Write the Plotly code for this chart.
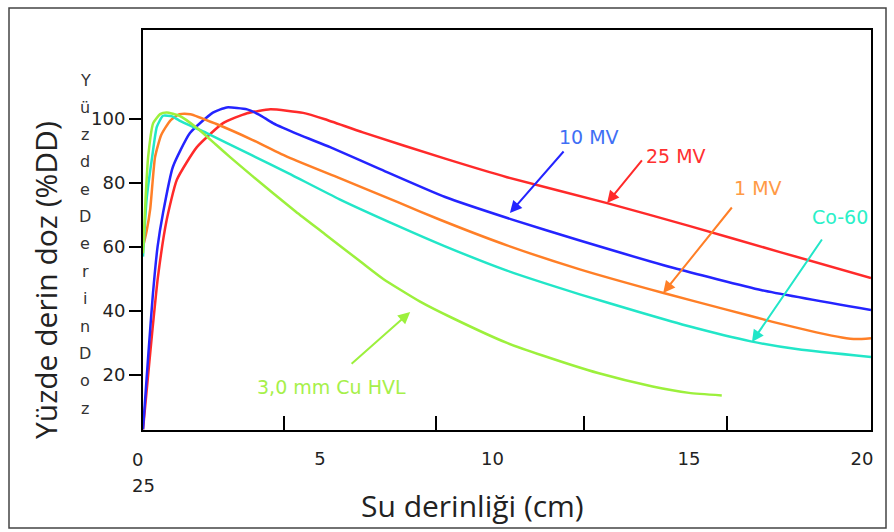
import plotly.graph_objects as go

# ---- data (depth in cm, percent depth dose) ----
x_25mv = [0, 0.1, 0.25, 0.41, 0.65, 0.93, 1.48, 2.2, 2.86, 3.5, 4.4, 5, 6.04, 8.3, 10, 12.75, 15, 17.5, 20]
y_25mv = [3, 15, 33, 50.6, 68.4, 81, 91.2, 98.7, 101.8, 103, 101.9, 99.9, 95.8, 87.6, 81.8, 73.7, 66.6, 58.4, 50.3]

x_10mv = [0, 0.05, 0.15, 0.27, 0.4, 0.55, 0.82, 1.29, 1.92, 2.3, 2.86, 3.2, 3.57, 4.3, 5.14, 6.5, 8.3, 10.1, 12, 14.56, 17, 20]
y_10mv = [3, 11, 27, 45, 60, 70.6, 85, 95.6, 102, 103.6, 103, 101.3, 98.7, 95, 91.2, 84.4, 75.6, 68.7, 62, 53.5, 46.5, 40.3]

x_1mv = [0, 0.1, 0.2, 0.33, 0.5, 0.75, 1.0, 1.3, 2, 3, 4, 5.4, 7, 8.16, 10, 12, 14.3, 16, 17.3, 18.5, 19.2, 19.6, 20]
y_1mv = [60, 65, 72, 88, 95, 99.5, 101.5, 101.5, 98.5, 93.5, 88, 81.5, 74, 68.5, 60.5, 53, 45.6, 40.5, 36.6, 33.3, 31.7, 31.2, 31.5]

x_co60 = [0, 0.1, 0.25, 0.38, 0.55, 0.8, 1.0, 1.75, 3, 4, 5.4, 7, 8.3, 10, 12, 13.65, 15, 16.7, 18, 20]
y_co60 = [57, 75, 88, 97.5, 101, 100.8, 99.5, 95.6, 88.6, 83, 74.9, 66.6, 60.2, 52.6, 45.2, 39.6, 35.2, 30.5, 28, 25.6]

x_hvl = [0, 0.07, 0.14, 0.28, 0.47, 0.65, 1.0, 1.5, 2.0, 2.4, 3, 4.2, 5, 6, 6.6, 7.6, 8.5, 10, 11, 12.5, 14, 15, 15.9]
y_hvl = [58, 75, 88, 98.7, 101.5, 102, 101, 97, 92, 88, 82.2, 71, 64, 55.2, 50, 43, 37.8, 30, 26, 20.6, 16.4, 14.4, 13.6]

series_names = ["25 MV", "10 MV", "1 MV", "Co-60", "3,0 mm Cu HVL"]
series_x = [x_25mv, x_10mv, x_1mv, x_co60, x_hvl]
series_y = [y_25mv, y_10mv, y_1mv, y_co60, y_hvl]
line_colors = ["#ff2a2a", "#2424ff", "#ff7f27", "#22e6c8", "#9cf03c"]
label_colors = ["#ff3030", "#3f6ff5", "#ff9a45", "#2af0c8", "#a6f04a"]

# label text positions, arrow tails and heads (data units)
label_pos = [(14.64, 88.4), (12.25, 94.4), (16.9, 78.4), (19.15, 69.4), (5.19, 16.25)]
arrow_tail = [(13.74, 87.5), (11.59, 90.3), (16.21, 72.8), (18.68, 62.8), (5.69, 23.1)]
arrow_head = [(12.75, 73.75), (10.08, 70.6), (14.29, 45.6), (16.73, 30.3), (7.34, 39.7)]

y_ticks = [20, 40, 60, 80, 100]
x_tick_marks = [3.87, 8.05, 12.12, 16.04]
x_tick_labels = ["5", "10", "15", "20"]
x_tick_label_pos = [4.86, 9.6, 15.0, 19.75]
side_letters = list("YüzdeDerinDoz")

fig = go.Figure()
for name, xs, ys, c in zip(series_names, series_x, series_y, line_colors):
    fig.add_trace(go.Scatter(x=xs, y=ys, mode="lines", name=name,
                             line=dict(color=c, width=2.5, shape="spline", smoothing=0.5),
                             showlegend=False, hoverinfo="skip"))
# invisible trace for second x axis (labels)
fig.add_trace(go.Scatter(x=[0, 20], y=[None, None], xaxis="x2", showlegend=False, hoverinfo="skip"))

anns = []
for name, (lx, ly), (tx, ty), (hx, hy), lc, ac in zip(series_names, label_pos, arrow_tail,
                                                       arrow_head, label_colors, line_colors):
    anns.append(dict(x=lx, y=ly, xref="x", yref="y", text=name, showarrow=False,
                     xanchor="center", yanchor="middle",
                     font=dict(family="DejaVu Sans", size=19, color=lc)))
    anns.append(dict(x=hx, y=hy, ax=tx, ay=ty, xref="x", yref="y", axref="x", ayref="y",
                     text="", showarrow=True, arrowhead=2, arrowsize=1.2, arrowwidth=2,
                     arrowcolor=ac, standoff=0, startstandoff=0))

# "0" and "25" under the origin
anns.append(dict(x=(137 - 143) / 728, y=(430 - 459) / 400, xref="paper", yref="paper", text="0",
                 showarrow=False, xanchor="center", yanchor="middle",
                 font=dict(family="DejaVu Sans", size=18, color="#222")))
anns.append(dict(x=0, y=(430 - 485) / 400, xref="paper", yref="paper", text="25",
                 showarrow=False, xanchor="center", yanchor="middle",
                 font=dict(family="DejaVu Sans", size=18, color="#222")))
# axis titles
anns.append(dict(x=(472 - 143) / 728, y=(430 - 505) / 400, xref="paper", yref="paper",
                 text="Su derinliği (cm)", showarrow=False, xanchor="center", yanchor="middle",
                 font=dict(family="Open Sans", size=30, color="#222")))
anns.append(dict(x=(45 - 143) / 728, y=(430 - 280) / 400, xref="paper", yref="paper",
                 text="Yüzde derin doz (%DD)", showarrow=False, textangle=-90,
                 xanchor="center", yanchor="middle",
                 font=dict(family="Open Sans", size=30, color="#222")))
# stacked vertical letters
n = len(side_letters)
for i, ch in enumerate(side_letters):
    py = 80 + i * (408 - 80) / (n - 1)
    anns.append(dict(x=(85 - 143) / 728, y=(430 - py) / 400, xref="paper", yref="paper",
                     text=ch, showarrow=False, xanchor="center", yanchor="middle",
                     font=dict(family="DejaVu Sans", size=16, color="#333")))

shapes = [dict(type="rect", xref="paper", yref="paper",
               x0=(9 - 143) / 728, x1=(886 - 143) / 728,
               y0=(430 - 528) / 400, y1=(430 - 8) / 400,
               line=dict(color="#444", width=1.5), layer="below")]

fig.update_layout(
    width=894, height=532,
    margin=dict(l=143, r=23, t=30, b=102),
    paper_bgcolor="white", plot_bgcolor="white",
    xaxis=dict(range=[0, 20], showgrid=False, zeroline=False,
               showline=True, linecolor="black", linewidth=2, mirror=True,
               tickmode="array", tickvals=x_tick_marks, ticks="inside", ticklen=14,
               tickwidth=1.5, tickcolor="black", showticklabels=False),
    xaxis2=dict(range=[0, 20], overlaying="x", side="bottom", showgrid=False,
                zeroline=False, showline=False, tickmode="array",
                tickvals=x_tick_label_pos, ticktext=x_tick_labels, ticks="",
                ticklabelstandoff=16,
                tickfont=dict(family="DejaVu Sans", size=18, color="#222")),
    yaxis=dict(range=[2.8, 127.8], showgrid=False, zeroline=False,
               showline=True, linecolor="black", linewidth=2, mirror=True,
               tickmode="array", tickvals=y_ticks, ticks="outside", ticklen=12,
               tickwidth=1.5, tickcolor="black",
               tickfont=dict(family="DejaVu Sans", size=18, color="#222")),
    annotations=anns, shapes=shapes,
)

fig.write_html("out.html")
